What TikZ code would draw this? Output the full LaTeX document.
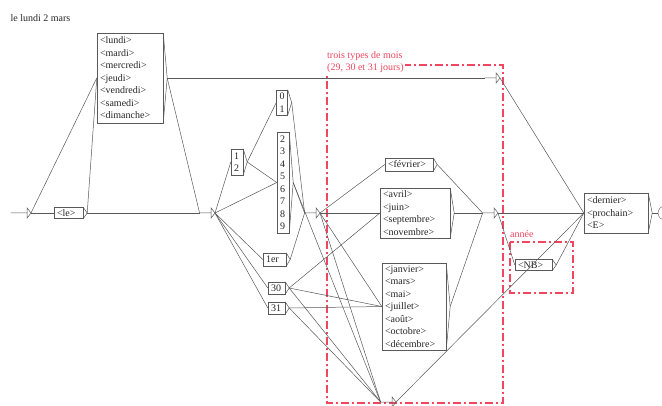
\documentclass[tikz,border=0pt]{standalone}
\usepackage{fontspec}
\setmainfont{Liberation Serif}
\usepackage{tikz}
\definecolor{linegray}{gray}{0.35}
\definecolor{framered}{RGB}{240,70,95}
\tikzstyle{box} = [rectangle, draw=linegray, fill=white, align=left, inner xsep=3pt, inner ysep=0pt, font=\fontsize{10}{12.5}\selectfont, text=black!85]
\tikzstyle{eps} = [rectangle, inner sep=0pt, minimum width=11pt, minimum height=10pt, anchor=east]
\tikzstyle{link} = [draw=linegray, line width=0.5pt]
\tikzstyle{redframe} = [draw=framered, line width=1.1pt, dash pattern=on 8pt off 3pt on 2pt off 3pt]
\tikzstyle{framelabel} = [fill=white, text=framered, align=left, inner sep=1pt, font=\fontsize{10}{12}\selectfont]

\begin{document}
\begin{tikzpicture}[x=1pt, y=-1pt]
        \fill[white] (0,0) rectangle (662,406);
        \useasboundingbox (0,0) rectangle (662,406);
        \node[anchor=west, font=\fontsize{10}{12}\selectfont, text=black!85] (title) at (7,18) {le lundi 2 mars};

        % Cadres (commentaires)
        \draw[redframe] (327,65) rectangle (503,403);
        \node[framelabel, anchor=north west] (lbl1) at (326,50) {trois types de mois\\(29, 30 et 31 jours)};
        \draw[redframe] (510,242) rectangle (573,293);
        \node[framelabel, anchor=north west] (lbl2) at (509,229) {année};

        % Etats vides
        \node[eps, minimum width=16pt] (init) at (27,213) {};
        \node[eps] (n1) at (211,213) {};
        \node[eps] (n2) at (496,78) {};
        \node[eps] (n3) at (316,213) {};
        \node[eps] (n4) at (494,213) {};
        \node[eps] (n5) at (392,402) {};

        % Jour de la semaine
        \node[box, text width=23pt, minimum height=11pt] (le) at (68.5,213) {<le>};
        \node[box, text width=60pt, minimum height=90pt] (days) at (130,78) {<lundi>\\<mardi>\\<mercredi>\\<jeudi>\\<vendredi>\\<samedi>\\<dimanche>};

        % Numero du jour
        \node[box, text width=6pt, minimum height=26pt] (d12) at (237,162) {1\\2};
        \node[box, text width=5pt, minimum height=25pt] (d01) at (282,102.5) {0\\1};
        \node[box, text width=6pt, minimum height=101pt] (d29) at (283,182.5) {2\\3\\4\\5\\6\\7\\8\\9};
        \node[box, text width=17pt, minimum height=13pt] (d1er) at (274.5,259.5) {1er};
        \node[box, text width=11pt, minimum height=12pt] (d30) at (276.5,288) {30};
        \node[box, text width=11pt, minimum height=12pt] (d31) at (276.5,308) {31};

        % Mois
        \node[box, text width=42pt, minimum height=13pt] (fev) at (409,164.5) {<février>};
        \node[box, text width=64pt, minimum height=50pt] (avr) at (415,213) {<avril>\\<juin>\\<septembre>\\<novembre>};
        \node[box, text width=58pt, minimum height=87pt] (jan) at (414,306.5) {<janvier>\\<mars>\\<mai>\\<juillet>\\<août>\\<octobre>\\<décembre>};

        % Annee et fin
        \node[box, text width=31pt, minimum height=11pt] (nb) at (533.5,265) {<NB>};
        \node[box, text width=58pt, minimum height=40pt] (der) at (616,213) {<dernier>\\<prochain>\\<E>};
        \node[draw=linegray, circle, minimum size=14pt, inner sep=0pt] (final) at (665,213) {};
        \node[draw=linegray, rectangle, minimum size=6pt, inner sep=0pt] (finalsq) at (final) {};

        % Transitions
        \foreach \a/\b in {init/le, init/days, le/days, le/n1, days/n1, days/n2,
            n1/d12, n1/d29, n1/d1er, n1/d30, n1/d31, d12/d01, d12/d29,
            d01/n3, d29/n3, d1er/n3, d29/n5, n3/fev, n3/avr, n3/jan, n3/n5,
            d30/avr, d30/jan, d30/n5, d31/jan, d31/n5, fev/n4, avr/n4, jan/n4,
            n4/der, n4/nb, nb/der, n5/der, n2/der, der/final}
            \draw[link] ([xshift=4pt]\a.east) -- (\b.west);

        % Pointes des boites
        \foreach \b in {le, days, d12, d01, d29, d1er, d30, d31, fev, avr, jan, nb, der}
            \draw[link] (\b.north east) -- ([xshift=4pt]\b.east) -- (\b.south east);
        \foreach \e in {init, n1, n2, n3, n4, n5}
            \draw[link] (\e.west) -- (\e.east) (\e.north east) -- (\e.south east) -- ([xshift=4pt]\e.east) -- cycle;
    \end{tikzpicture}
\end{document}
